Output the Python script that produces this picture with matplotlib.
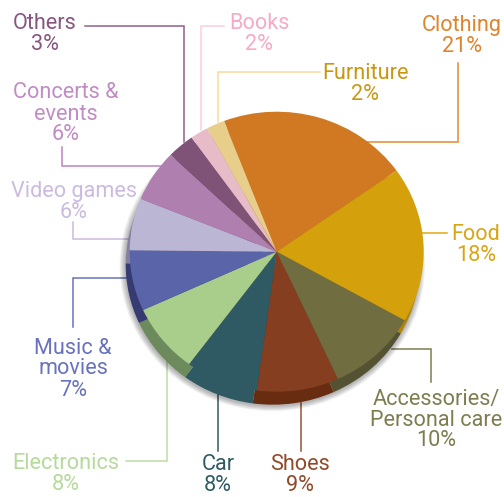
import matplotlib
matplotlib.use("Agg")
import matplotlib.pyplot as plt
from matplotlib.patches import Ellipse

plt.rcParams['font.family'] = ['Roboto', 'DejaVu Sans']

W, H = 504, 497
categories = ["Clothing", "Food", "Accessories/\nPersonal care", "Shoes", "Car", "Electronics",
              "Music &\nmovies", "Video games", "Concerts &\nevents", "Others", "Books", "Furniture"]
values = [21, 18, 10, 9, 8, 8, 7, 6, 6, 3, 2, 2]
top_colors = ["#D17922", "#D4A00C", "#706E41", "#853F20", "#2F5A64", "#A9CD8A",
              "#5A64A8", "#BBB6D4", "#AF7FB0", "#7F5277", "#E8BBC8", "#E8CE8B"]
side_colors = ["#A55D15", "#B08408", "#545233", "#682C10", "#2F5A64", "#6C8A5C",
               "#363C72", "#85809F", "#85608A", "#5F3D5A", "#B08C98", "#B09B66"]
text_colors = ["#DE842C", "#D9A514", "#7F7D50", "#8F4A2A", "#2F5A64", "#B5DA9C",
               "#6872BE", "#CDBADF", "#C08CC4", "#87557F", "#F8A9C6", "#C9960F"]
line_colors = ["#E6892B", "#E0A810", "#7F7D50", "#9A5236", "#2F5A64", "#BCDDA4",
               "#6872BE", "#CDBADF", "#BC84C0", "#8F6087", "#FAD0DE", "#F6DC9A"]

# label centres (x, y of text block centre) in image pixels
label_xy = [(462, 36), (476, 245), (436, 420), (300, 475), (218, 475), (66, 474),
            (73, 369), (74, 202), (66, 114), (45, 34), (259, 34), (365, 84)]
# leader-line vertices in image pixels
leaders = [
    [(363, 142), (458, 142), (458, 63)],
    [(422, 233), (447, 233)],
    [(392, 349), (431, 349), (431, 382)],
    [(301, 403), (301, 451)],
    [(218, 393), (218, 451)],
    [(126, 461), (167, 461), (167, 358)],
    [(130, 278), (73, 278), (73, 327)],
    [(132, 239), (73, 239), (73, 222)],
    [(165, 166), (62, 166), (62, 147)],
    [(85, 26), (184, 26), (184, 142)],
    [(224, 26), (201, 26), (201, 130)],
    [(320, 72), (218, 72), (218, 122)],
]

fig = plt.figure(figsize=(W / 100, H / 100), dpi=100)
fig.patch.set_facecolor("white")

# annotation layer in image pixels
ax = fig.add_axes([0, 0, 1, 1])
ax.set_xlim(0, W)
ax.set_ylim(H, 0)
ax.axis("off")
for pts, c in zip(leaders, line_colors):
    ax.plot([p[0] for p in pts], [p[1] for p in pts], color=c, lw=1.1,
            solid_joinstyle="miter", zorder=1)
for name, v, (x, y), c in zip(categories, values, label_xy, text_colors):
    ax.text(x, y, f"{name}\n{v}%", color=c, fontsize=15.6, ha="center", va="center",
            linespacing=1.0, zorder=5)

# pie layer: tilted disc, rx 147 px, ry 140 px, centred at (276.7, 251.7)
cx, cy, rx, ry = 276.7, 251.7, 147, 140
pad = 1.3
pax = fig.add_axes([(cx - rx * pad) / W, 1 - (cy + ry * pad) / H, 2 * rx * pad / W, 2 * ry * pad / H])
pax.patch.set_alpha(0)

# soft shadow
for i in range(10):
    g = 1.0 + 0.004 * (10 - i)
    pax.add_patch(Ellipse((-0.03, -0.1), 2 * g, 2 * g, color="black", alpha=0.03, lw=0, zorder=0))

pax.pie(values, colors=side_colors, startangle=90 + 21, counterclock=False,
        center=(-4 / rx, -13 / ry), radius=1, frame=False, wedgeprops=dict(lw=0))
pax.pie(values, colors=top_colors, startangle=90 + 21, counterclock=False,
        center=(0, 0), radius=1, frame=False, wedgeprops=dict(lw=0))
pax.set_aspect("auto")
pax.set_xlim(-pad, pad)
pax.set_ylim(-pad, pad)
pax.axis("off")

fig.savefig("out.png", dpi=100)
